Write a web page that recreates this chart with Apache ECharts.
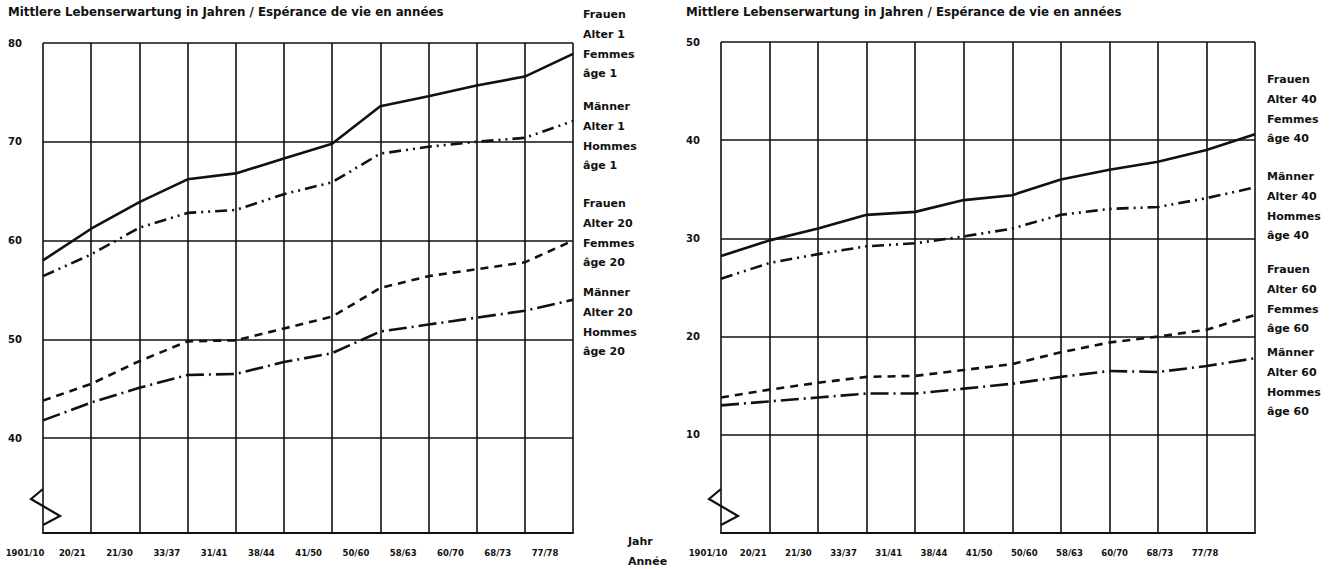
<!DOCTYPE html>
<html>
<head>
<meta charset="utf-8">
<title>Mittlere Lebenserwartung</title>
<script src="https://cdn.jsdelivr.net/npm/echarts@6/dist/echarts.min.js"></script>
<style>
    html, body { margin: 0; padding: 0; background: #fff; }
    #main { width: 1334px; height: 569px; }
</style>
</head>
<body>
<div id="main"></div>
<script>
// Daten
var perioden = ['1901/10', '20/21', '21/30', '33/37', '31/41', '38/44', '41/50', '50/60', '58/63', '60/70', '68/73', '77/78'];

// linke Grafik: Alter 1 und Alter 20
var frauenAlter1 = [58.0, 61.2, 63.9, 66.2, 66.8, 68.3, 69.8, 73.6, 74.6, 75.7, 76.6, 78.9];
var maennerAlter1 = [56.4, 58.6, 61.3, 62.8, 63.1, 64.7, 65.9, 68.8, 69.5, 70.0, 70.4, 72.1];
var frauenAlter20 = [43.8, 45.5, 47.8, 49.8, 49.9, 51.1, 52.3, 55.2, 56.4, 57.1, 57.8, 60.0];
var maennerAlter20 = [41.8, 43.6, 45.1, 46.4, 46.5, 47.7, 48.6, 50.8, 51.5, 52.2, 52.9, 54.0];

// rechte Grafik: Alter 40 und Alter 60
var frauenAlter40 = [28.2, 29.8, 31.0, 32.4, 32.7, 33.9, 34.4, 36.0, 37.0, 37.8, 39.0, 40.6];
var maennerAlter40 = [25.9, 27.5, 28.4, 29.2, 29.5, 30.2, 31.0, 32.4, 33.0, 33.2, 34.1, 35.2];
var frauenAlter60 = [13.8, 14.6, 15.3, 15.9, 16.0, 16.6, 17.2, 18.4, 19.4, 20.0, 20.7, 22.2];
var maennerAlter60 = [13.0, 13.4, 13.8, 14.2, 14.2, 14.7, 15.2, 15.9, 16.5, 16.4, 17.0, 17.8];

// Achsenbeschriftung
var yTicksLinks = [40, 50, 60, 70, 80];
var yTicksRechts = [10, 20, 30, 40, 50];

var titel = 'Mittlere Lebenserwartung in Jahren / Espérance de vie en années';
var legendeLinks = [
    ['Frauen', 'Alter 1', 'Femmes', 'âge 1'],
    ['Männer', 'Alter 1', 'Hommes', 'âge 1'],
    ['Frauen', 'Alter 20', 'Femmes', 'âge 20'],
    ['Männer', 'Alter 20', 'Hommes', 'âge 20']
];
var legendeRechts = [
    ['Frauen', 'Alter 40', 'Femmes', 'âge 40'],
    ['Männer', 'Alter 40', 'Hommes', 'âge 40'],
    ['Frauen', 'Alter 60', 'Femmes', 'âge 60'],
    ['Männer', 'Alter 60', 'Hommes', 'âge 60']
];

var schrift = 'DejaVu Sans';
var schwarz = '#111';
var basis = 533; // Grundlinie beider Grafiken

// Linienarten: durchgezogen, Strich-Punkt-Punkt, gestrichelt, Langstrich-Punkt
var stile = ['solid', [12, 5, 2, 5, 2, 5], [8, 6], [18, 5, 2, 5]];

function linie(name, daten, stil, achse) {
    return {
        name: name,
        type: 'line',
        xAxisIndex: achse,
        yAxisIndex: achse,
        data: daten,
        symbol: 'none',
        silent: true,
        lineStyle: { color: schwarz, width: 2.6, type: stil }
    };
}

function xAchse(grid) {
    return {
        type: 'category',
        gridIndex: grid,
        data: perioden,
        boundaryGap: false,
        axisLine: { lineStyle: { color: schwarz, width: 2 } },
        axisTick: { show: false },
        axisLabel: { show: false },
        splitLine: { show: true, interval: 0, lineStyle: { color: schwarz, width: 1.6 } }
    };
}

// eigene Achsen nur für die Jahresbeschriftung (stehen in der Vorlage etwas links der Linien)
function labelAchse(grid) {
    return {
        type: 'category',
        gridIndex: grid,
        data: perioden,
        boundaryGap: false,
        axisLine: { show: false },
        axisTick: { show: false },
        splitLine: { show: false },
        axisLabel: {
            interval: 0,
            margin: 13,
            color: schwarz,
            fontFamily: schrift,
            fontWeight: 'bold',
            fontSize: 8.5
        }
    };
}

function yAchse(grid, min, max, ticks) {
    return {
        type: 'value',
        gridIndex: grid,
        min: min,
        max: max,
        axisLine: { show: false },
        axisTick: { show: false, customValues: ticks },
        axisLabel: {
            customValues: ticks,
            margin: 21,
            color: schwarz,
            fontFamily: schrift,
            fontWeight: 'bold',
            fontSize: 10
        },
        splitLine: { show: true, lineStyle: { color: schwarz, width: 1.6 } }
    };
}

function leerAchse(grid) {
    return { type: 'value', gridIndex: grid, show: false };
}

function textBlock(zeilen, x, y) {
    return {
        type: 'text',
        x: x,
        y: y,
        silent: true,
        style: {
            text: zeilen.join('\n'),
            font: 'bold 11px ' + schrift,
            fill: schwarz,
            lineHeight: 19.7,
            align: 'left',
            verticalAlign: 'top'
        }
    };
}

// Achsenbruch (Zickzack) unten an der y-Achse
function zickzack(x0) {
    return [
        { type: 'rect', silent: true, shape: { x: x0 - 3, y: basis - 44, width: 6, height: 36 }, style: { fill: '#fff' } },
        {
            type: 'polyline', silent: true,
            shape: { points: [[x0, basis - 44], [x0 - 12, basis - 34], [x0 + 17, basis - 17], [x0, basis - 8]] },
            style: { stroke: schwarz, lineWidth: 2.2, fill: null }
        }
    ];
}

var myChart = echarts.init(document.getElementById('main'), null, { renderer: 'svg' });

var grafik = [
    { type: 'text', x: 8, y: 12, silent: true, style: { text: titel, font: 'bold 11.8px ' + schrift, fill: schwarz, verticalAlign: 'middle' } },
    { type: 'text', x: 686, y: 12, silent: true, style: { text: titel, font: 'bold 11.8px ' + schrift, fill: schwarz, verticalAlign: 'middle' } },
    textBlock(legendeLinks[0], 583, 5),
    textBlock(legendeLinks[1], 583, 97),
    textBlock(legendeLinks[2], 583, 194),
    textBlock(legendeLinks[3], 583, 283),
    textBlock(legendeRechts[0], 1267, 70),
    textBlock(legendeRechts[1], 1267, 167),
    textBlock(legendeRechts[2], 1267, 260),
    textBlock(legendeRechts[3], 1267, 343),
    textBlock(['Jahr', 'Année'], 628, 532)
].concat(zickzack(43), zickzack(721));

var option = {
    backgroundColor: '#fff',
    animation: false,
    grid: [
        { left: 43, top: 43, width: 530, height: basis - 43 },
        { left: 721, top: 42, width: 534, height: basis - 42 },
        { left: 25, top: basis, width: 520, height: 2 },
        { left: 708, top: basis, width: 497, height: 2 }
    ],
    xAxis: [xAchse(0), xAchse(1), labelAchse(2), labelAchse(3)],
    yAxis: [
        yAchse(0, 30.4, 80, yTicksLinks),
        yAchse(1, 0, 50, yTicksRechts),
        leerAchse(2),
        leerAchse(3)
    ],
    series: [
        linie('Frauen Alter 1', frauenAlter1, stile[0], 0),
        linie('Männer Alter 1', maennerAlter1, stile[1], 0),
        linie('Frauen Alter 20', frauenAlter20, stile[2], 0),
        linie('Männer Alter 20', maennerAlter20, stile[3], 0),
        linie('Frauen Alter 40', frauenAlter40, stile[0], 1),
        linie('Männer Alter 40', maennerAlter40, stile[1], 1),
        linie('Frauen Alter 60', frauenAlter60, stile[2], 1),
        linie('Männer Alter 60', maennerAlter60, stile[3], 1)
    ],
    graphic: grafik
};

myChart.setOption(option);
</script>
</body>
</html>
